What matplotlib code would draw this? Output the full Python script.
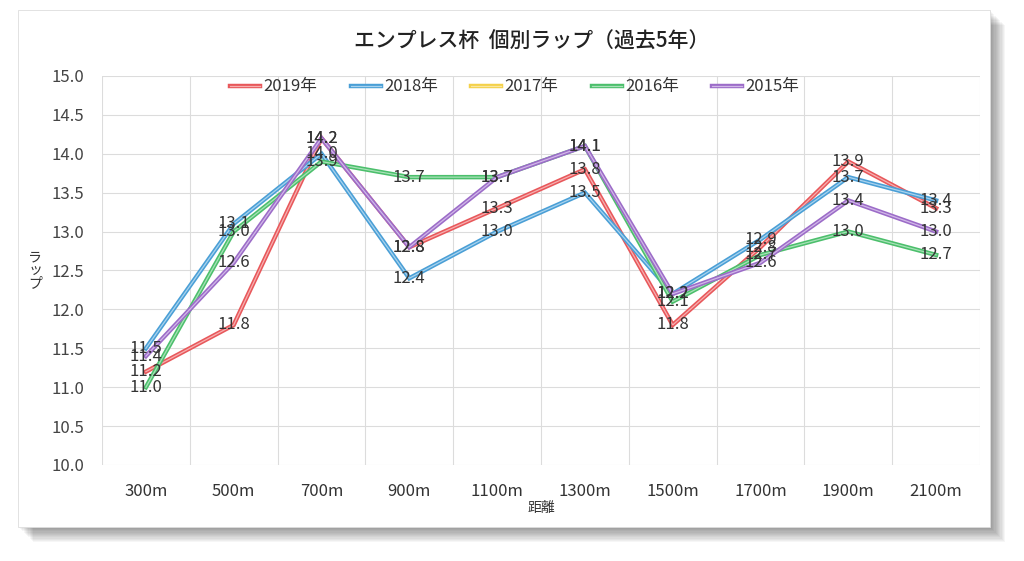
import matplotlib
matplotlib.use('Agg')
from matplotlib import pyplot as plt
from matplotlib.legend_handler import HandlerTuple
import matplotlib.patches as patches
import numpy as np

plt.rcParams['font.family'] = ['Noto Sans CJK JP', 'DejaVu Sans']

distances = ['300m', '500m', '700m', '900m', '1100m', '1300m', '1500m', '1700m', '1900m', '2100m']
years = ['2019年', '2018年', '2017年', '2016年', '2015年']
lap_2019 = [11.2, 11.8, 14.2, 12.8, 13.3, 13.8, 11.8, 12.8, 13.9, 13.3]
lap_2018 = [11.5, 13.1, 14.0, 12.4, 13.0, 13.5, 12.2, 12.9, 13.7, 13.4]
lap_2017 = [None] * 10
lap_2016 = [11.0, 13.0, 13.9, 13.7, 13.7, 14.1, 12.1, 12.7, 13.0, 12.7]
lap_2015 = [11.4, 12.6, 14.2, 12.8, 13.7, 14.1, 12.2, 12.6, 13.4, 13.0]
colors = ['#e8585b', '#4a9fd6', '#f4d14a', '#4cbf6c', '#9c6cc8']
light = ['#f6b0b1', '#a9d3ee', '#fae7a0', '#a8e2b8', '#d1b8e8']

fig = plt.figure(figsize=(10.24, 5.61), dpi=100)
fig.patch.set_facecolor('white')

# card with soft shadow
for i in range(12):
    off = 2 + i * 1.2
    fig.patches.append(patches.Rectangle((18 / 1024 + off / 1024, 1 - 527 / 561 - off / 561),
                                         972 / 1024, 517 / 561, transform=fig.transFigure,
                                         facecolor='black', alpha=0.035, edgecolor='none', zorder=0))
fig.patches.append(patches.Rectangle((18 / 1024, 1 - 527 / 561), 972 / 1024, 517 / 561,
                                     transform=fig.transFigure, facecolor='white',
                                     edgecolor='#dddddd', linewidth=0.6, zorder=1))

ax = fig.add_axes([102 / 1024, 1 - 465 / 561, 878 / 1024, 389 / 561])
ax.set_zorder(2)
ax.patch.set_alpha(0)

x = np.arange(len(distances))
series = [lap_2019, lap_2018, lap_2017, lap_2016, lap_2015]
handles = []
for vals, name, c, lc in zip(series, years, colors, light):
    v = np.array([np.nan if a is None else a for a in vals], dtype=float)
    l1, = ax.plot(x, v, color=c, linewidth=3.2, solid_joinstyle='miter', zorder=3)
    l2, = ax.plot(x, v, color=lc, linewidth=0.9, solid_joinstyle='miter', zorder=3)
    handles.append((l1, l2))
    for xi, yi in zip(x, v):
        if not np.isnan(yi):
            ax.text(xi, yi, '%.1f' % yi, ha='center', va='center', fontsize=12,
                    color='#333333', zorder=5)

ax.set_xlim(-0.5, len(distances) - 0.5)
ax.set_ylim(10, 15)
ax.set_yticks(np.arange(10, 15.01, 0.5))
ax.set_yticklabels(['%.1f' % t for t in np.arange(10, 15.01, 0.5)], fontsize=12, color='#444444')
ax.set_xticks(x)
ax.set_xticklabels(distances, fontsize=12, color='#333333')
ax.set_xticks(np.arange(-0.5, len(distances), 1), minor=True)
ax.grid(True, which='minor', axis='x', color='#dcdcdc', linewidth=0.8)
ax.grid(True, which='major', axis='y', color='#dcdcdc', linewidth=0.8)
ax.tick_params(axis='both', which='both', length=0)
ax.tick_params(axis='x', pad=13)
ax.tick_params(axis='y', pad=13)
for s in ax.spines.values():
    s.set_visible(False)
ax.set_axisbelow(True)

ax.set_xlabel('距離', fontsize=10, color='#333333', labelpad=1)
fig.text(35 / 1024, 1 - 270 / 561, 'ラ\nッ\nプ', fontsize=10, color='#333333',
         ha='center', va='center', linespacing=0.9)

leg = ax.legend(handles, years, loc='center', bbox_to_anchor=(0.47, 1 - 11 / 389), ncol=5,
                frameon=False, fontsize=12, handlelength=1.8, handletextpad=0.2,
                columnspacing=2.0, borderpad=0,
                handler_map={tuple: HandlerTuple(ndivide=1, pad=0)})
for t in leg.get_texts():
    t.set_color('#333333')

fig.text(532 / 1024, 1 - 42 / 561, 'エンプレス杯  個別ラップ（過去5年）', fontsize=15,
         ha='center', va='center', color='#222222', fontweight='medium')

fig.savefig('out.png', dpi=100)
